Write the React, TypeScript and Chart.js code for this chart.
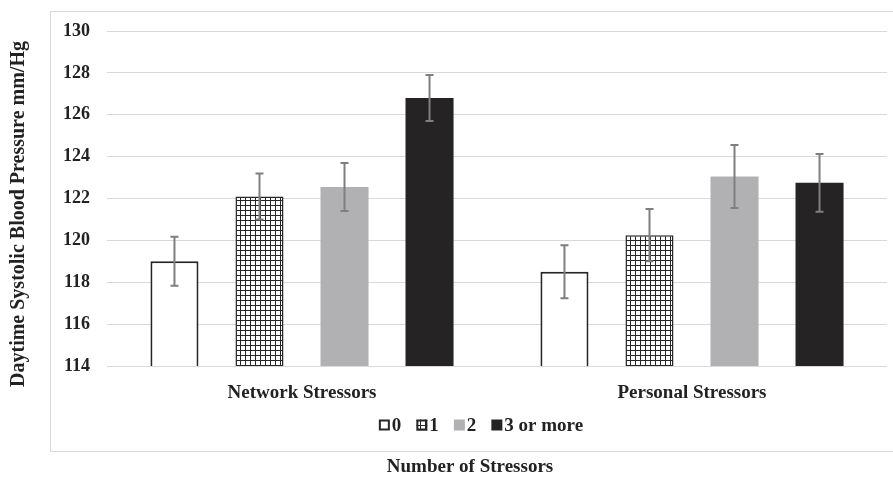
import React, { useEffect, useRef } from "react";
import { Chart, registerables } from "chart.js";

Chart.register(...registerables);

const categories = ["Network Stressors", "Personal Stressors"];
const seriesLabels = ["0", "1", "2", "3 or more"];
const values0 = [119.0, 118.5];
const values1 = [122.1, 120.25];
const values2 = [122.55, 123.05];
const values3 = [126.8, 122.75];
const errors0 = [1.17, 1.27];
const errors1 = [1.1, 1.25];
const errors2 = [1.15, 1.5];
const errors3 = [1.1, 1.38];
const yMin = 114;
const yMax = 130;
const yStep = 2;
const yTitle = "Daytime Systolic Blood Pressure mm/Hg";
const xTitle = "Number of Stressors";

const FONT_FAMILY = "'Liberation Serif', 'Times New Roman', serif";
const TEXT_COLOR = "#222222";
const TICK_SIZE = 18;
const CAT_SIZE = 19;

function makeGridPattern(): CanvasPattern | string {
  const c = document.createElement("canvas");
  c.width = 5;
  c.height = 5;
  const g = c.getContext("2d");
  if (!g) return "#888";
  g.fillStyle = "#ffffff";
  g.fillRect(0, 0, 5, 5);
  g.fillStyle = "#262626";
  g.fillRect(0, 0, 5, 1);
  g.fillRect(0, 0, 1, 5);
  const p = g.createPattern(c, "repeat");
  return p || "#888";
}

export default function App() {
  const ref = useRef<HTMLCanvasElement | null>(null);

  useEffect(() => {
    const canvas = ref.current;
    if (!canvas) return;
    const pattern = makeGridPattern();
    const errorSets = [errors0, errors1, errors2, errors3];

    const frame = {
      id: "frame",
      beforeDraw(chart: any) {
        const ctx = chart.ctx;
        ctx.save();
        ctx.fillStyle = "#ffffff";
        ctx.fillRect(0, 0, chart.width, chart.height);
        ctx.strokeStyle = "#d9d9d9";
        ctx.lineWidth = 1;
        ctx.strokeRect(50.5, 11.5, chart.width + 20, 440);
        ctx.restore();
      },
    };

    const errorBars = {
      id: "errorBars",
      afterDatasetsDraw(chart: any) {
        const ctx = chart.ctx;
        const yScale = chart.scales.y;
        ctx.save();
        ctx.strokeStyle = "#7f7f7f";
        ctx.lineWidth = 2;
        chart.data.datasets.forEach((ds: any, di: number) => {
          const meta = chart.getDatasetMeta(di);
          meta.data.forEach((bar: any, i: number) => {
            const v = ds.data[i];
            const e = errorSets[di][i];
            const x = bar.x;
            const yTop = yScale.getPixelForValue(v + e);
            const yBot = yScale.getPixelForValue(v - e);
            ctx.beginPath();
            ctx.moveTo(x, yTop);
            ctx.lineTo(x, yBot);
            ctx.moveTo(x - 4, yTop);
            ctx.lineTo(x + 4, yTop);
            ctx.moveTo(x - 4, yBot);
            ctx.lineTo(x + 4, yBot);
            ctx.stroke();
          });
        });
        ctx.restore();
      },
    };

    const texts = {
      id: "texts",
      afterDraw(chart: any) {
        const ctx = chart.ctx;
        ctx.save();
        ctx.fillStyle = TEXT_COLOR;
        ctx.textBaseline = "middle";
        // y title
        ctx.save();
        ctx.font = `bold 20px ${FONT_FAMILY}`;
        ctx.translate(19, 214);
        ctx.rotate(-Math.PI / 2);
        ctx.textAlign = "center";
        ctx.fillText(yTitle, 0, 0);
        ctx.restore();
        // x title
        ctx.font = `bold ${CAT_SIZE}px ${FONT_FAMILY}`;
        ctx.textAlign = "center";
        ctx.fillText(xTitle, 470, 467);
        // legend
        const marker = 11;
        const textGap = 2;
        const itemGap = 15;
        const widths = chart.data.datasets.map(
          (ds: any) => marker + textGap + ctx.measureText(ds.label).width
        );
        const total =
          widths.reduce((a: number, b: number) => a + b, 0) +
          itemGap * (widths.length - 1);
        let x = 481 - total / 2;
        const cy = 425;
        ctx.textAlign = "left";
        chart.data.datasets.forEach((ds: any, i: number) => {
          ctx.fillStyle = ds.backgroundColor;
          ctx.fillRect(x, cy - marker / 2, marker, marker);
          if (ds.borderWidth) {
            ctx.strokeStyle = ds.borderColor;
            ctx.lineWidth = 2;
            ctx.strokeRect(x + 1, cy - marker / 2 + 1, marker - 2, marker - 2);
          }
          ctx.fillStyle = TEXT_COLOR;
          ctx.fillText(ds.label, x + marker + textGap, cy + 1);
          x += widths[i] + itemGap;
        });
        ctx.restore();
      },
    };

    const common = {
      categoryPercentage: 0.872,
      barPercentage: 0.565,
    };

    const chart = new Chart(canvas, {
      type: "bar",
      data: {
        labels: categories,
        datasets: [
          {
            label: seriesLabels[0],
            data: values0,
            backgroundColor: "#ffffff",
            borderColor: "#262626",
            borderWidth: 2,
            ...common,
          },
          {
            label: seriesLabels[1],
            data: values1,
            backgroundColor: pattern as any,
            borderColor: "#262626",
            borderWidth: 1.5,
            ...common,
          },
          {
            label: seriesLabels[2],
            data: values2,
            backgroundColor: "#b1b1b4",
            borderWidth: 0,
            ...common,
          },
          {
            label: seriesLabels[3],
            data: values3,
            backgroundColor: "#262324",
            borderWidth: 0,
            ...common,
          },
        ],
      },
      options: {
        responsive: false,
        animation: false,
        layout: { padding: { left: 0, top: 31, right: 6, bottom: 72 } },
        plugins: {
          legend: { display: false },
          title: { display: false },
          tooltip: { enabled: false },
        },
        scales: {
          x: {
            grid: { display: false },
            border: { display: false },
            ticks: {
              color: TEXT_COLOR,
              padding: 8,
              font: { family: FONT_FAMILY, size: CAT_SIZE, weight: "bold" },
            },
            afterFit(scale: any) {
              scale.height = 40;
            },
          },
          y: {
            min: yMin,
            max: yMax,
            grid: { color: "#d9d9d9", lineWidth: 1, drawTicks: false },
            border: { display: false },
            ticks: {
              stepSize: yStep,
              color: TEXT_COLOR,
              padding: 17,
              font: { family: FONT_FAMILY, size: TICK_SIZE, weight: "bold" },
            },
            afterFit(scale: any) {
              scale.width = 107;
            },
          },
        },
      },
      plugins: [frame, errorBars, texts],
    });

    return () => chart.destroy();
  }, []);

  return (
    <div style={{ position: "fixed", left: 0, top: 0, width: 893, height: 478 }}>
      <canvas ref={ref} width={893} height={478} />
    </div>
  );
}
